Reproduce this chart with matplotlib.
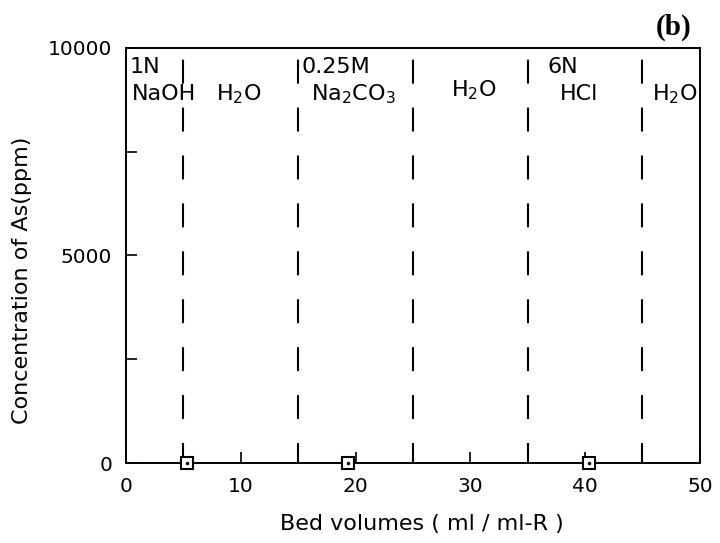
import numpy as np
import matplotlib.pyplot as plt

plt.rcParams['font.family'] = ['DejaVu Sans']

# measured points (Bed volumes, As ppm)
bed_vol = [5.3, 19.3, 40.3]
as_conc = [0, 0, 0]

# boundaries between eluents
boundaries = [5, 15, 25, 35, 45]

# eluent labels
label_x = [0.3, 0.5, 9.8, 15.25, 19.8, 30.3, 38.1, 39.5, 47.85]
label_y = [9540, 8890, 8890, 9540, 8890, 8990, 9540, 8890, 8890]
label_txt = ['1N', 'NaOH', 'H$_2$O', '0.25M', 'Na$_2$CO$_3$', 'H$_2$O', '6N', 'HCl', 'H$_2$O']
label_ha = ['left', 'left', 'center', 'left', 'center', 'center', 'center', 'center', 'center']

fig = plt.figure(figsize=(7.2, 5.43), dpi=100)
ax = fig.add_axes([0.175, 0.147, 0.797, 0.765])

for b in boundaries:
    ax.axvline(b, color='black', lw=1.5, linestyle=(1.9, (11.5, 11.5)))

ax.plot(bed_vol, as_conc, 's', mfc='white', mec='black', ms=8, mew=1.5, clip_on=False, zorder=5)
ax.plot(bed_vol, as_conc, '.', color='black', ms=3, clip_on=False, zorder=6)

for x, y, t, ha in zip(label_x, label_y, label_txt, label_ha):
    ax.text(x, y, t, fontsize=16, ha=ha, va='center')

ax.set_xlim(0, 50)
ax.set_ylim(0, 10000)
ax.set_xticks([0, 10, 20, 30, 40, 50])
ax.set_yticks([0, 5000, 10000])
ax.set_yticks([2500, 7500], minor=True)
ax.tick_params(direction='in', length=8, width=1.2, labelsize=14.5, pad=10)
ax.tick_params(which='minor', direction='in', length=8, width=1.2)
for s in ax.spines.values():
    s.set_linewidth(1.4)

ax.set_xlabel('Bed volumes ( ml / ml-R )', fontsize=16, va='center')
ax.xaxis.set_label_coords(0.516, -0.147)
ax.set_ylabel('Concentration of As(ppm)', fontsize=16, va='center')
ax.yaxis.set_label_coords(-0.181, 0.441)

fig.text(0.935, 0.95, '(b)', fontsize=21, fontweight='bold', family='Liberation Serif', ha='center', va='center')

fig.savefig('out.png', dpi=100)
